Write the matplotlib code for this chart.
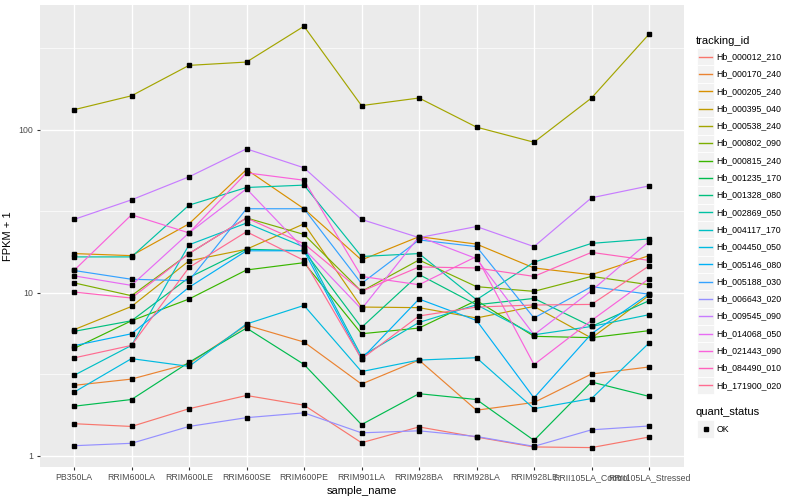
import matplotlib
matplotlib.use('Agg')
import matplotlib.pyplot as plt
from matplotlib.lines import Line2D
from matplotlib.patches import Rectangle
from matplotlib.ticker import NullFormatter

plt.rcParams['font.family'] = ['Liberation Sans', 'DejaVu Sans']

samples = ['PB350LA', 'RRIM600LA', 'RRIM600LE', 'RRIM600SE', 'RRIM600PE',
           'RRIM901LA', 'RRIM928BA', 'RRIM928LA', 'RRIM928LE',
           'RRII105LA_Control', 'RRII105LA_Stressed']

tracking_ids = ['Hb_000012_210', 'Hb_000170_240', 'Hb_000205_240', 'Hb_000395_040',
                'Hb_000538_240', 'Hb_000802_090', 'Hb_000815_240', 'Hb_001235_170',
                'Hb_001328_080', 'Hb_002869_050', 'Hb_004117_170', 'Hb_004450_050',
                'Hb_005146_080', 'Hb_005188_030', 'Hb_006643_020', 'Hb_009545_090',
                'Hb_014068_050', 'Hb_021443_090', 'Hb_084490_010', 'Hb_171900_020']

# FPKM + 1, one list per gene, in sample order
hb_000012_210 = [1.57, 1.51, 1.94, 2.34, 2.04, 1.20, 1.50, 1.30, 1.13, 1.12, 1.30]
hb_000170_240 = [2.70, 2.95, 3.67, 6.32, 4.98, 2.75, 3.86, 1.90, 2.12, 3.17, 3.50]
hb_000205_240 = [17.4, 16.9, 26.5, 57.1, 32.8, 15.9, 22.1, 19.9, 14.2, 12.9, 16.9]
hb_000395_040 = [5.93, 8.24, 15.7, 18.5, 26.5, 8.17, 8.10, 7.00, 8.24, 5.27, 9.63]
hb_000538_240 = [133, 162, 249, 261, 433, 141, 157, 104, 84, 157, 387]
hb_000802_090 = [11.5, 9.59, 17.4, 28.8, 22.8, 10.2, 15.9, 10.9, 10.2, 12.6, 11.2]
hb_000815_240 = [4.55, 6.73, 9.15, 13.8, 15.3, 5.60, 6.07, 8.97, 5.40, 5.30, 5.85]
hb_001235_170 = [2.01, 2.21, 3.74, 6.07, 3.63, 1.55, 2.40, 2.21, 1.24, 2.83, 2.31]
hb_001328_080 = [5.79, 6.73, 12.4, 18.5, 18.1, 6.12, 12.95, 8.44, 9.23, 6.21, 8.93]
hb_002869_050 = [16.6, 16.6, 34.5, 44.3, 45.8, 16.7, 17.4, 9.06, 15.4, 20.1, 21.4]
hb_004117_170 = [3.11, 4.75, 19.7, 26.8, 19.1, 4.07, 6.57, 8.44, 5.52, 6.21, 7.33]
hb_004450_050 = [2.45, 3.94, 3.53, 6.43, 8.36, 3.28, 3.86, 3.99, 1.94, 2.24, 4.91]
hb_005146_080 = [4.73, 5.60, 10.8, 18.1, 18.1, 3.92, 9.15, 6.76, 2.26, 5.60, 9.86]
hb_005188_030 = [13.7, 12.1, 11.85, 32.8, 32.8, 11.4, 21.1, 19.2, 7.00, 10.9, 9.80]
hb_006643_020 = [1.15, 1.19, 1.51, 1.71, 1.83, 1.38, 1.42, 1.31, 1.14, 1.44, 1.52]
hb_009545_090 = [28.2, 37.2, 51.5, 76.5, 58.5, 28.2, 21.8, 25.5, 19.2, 38.3, 45.3]
hb_014068_050 = [12.7, 11.1, 23.3, 43.5, 18.6, 7.94, 22.1, 16.2, 5.52, 10.3, 20.6]
hb_021443_090 = [13.7, 30.1, 23.3, 54.5, 49.1, 12.6, 11.2, 16.7, 3.62, 6.76, 12.2]
hb_084490_010 = [10.1, 9.28, 17.4, 28.8, 20.0, 10.2, 14.4, 14.2, 12.6, 17.7, 15.8]
hb_171900_020 = [3.98, 4.75, 14.3, 23.7, 15.8, 3.92, 7.20, 8.17, 8.41, 8.48, 14.6]

series = [hb_000012_210, hb_000170_240, hb_000205_240, hb_000395_040, hb_000538_240,
          hb_000802_090, hb_000815_240, hb_001235_170, hb_001328_080, hb_002869_050,
          hb_004117_170, hb_004450_050, hb_005146_080, hb_005188_030, hb_006643_020,
          hb_009545_090, hb_014068_050, hb_021443_090, hb_084490_010, hb_171900_020]

# ggplot2 default hue palette, 20 levels
colors = ['#F8766D', '#EA8331', '#D89000', '#C09B00', '#A3A500', '#7CAE00', '#39B600',
          '#00BB4E', '#00BF7D', '#00C1A3', '#00BFC4', '#00BAE0', '#00B0F6', '#35A2FF',
          '#9590FF', '#C77CFF', '#E76BF3', '#FA62DB', '#FF62BC', '#FF6C91']

W, H = 800, 500
fig = plt.figure(figsize=(8, 5), dpi=100)
ax = fig.add_axes([39.5 / W, 1 - 467 / H, 644 / W, 462 / H])
ax.set_facecolor('#EBEBEB')
for s in ax.spines.values():
    s.set_visible(False)

x = list(range(len(samples)))
for vals, col in zip(series, colors):
    ax.plot(x, vals, color=col, lw=0.85, zorder=2)
for vals in series:
    ax.plot(x, vals, ls='none', marker='s', ms=2.2, color='black', zorder=3)

ax.set_yscale('log')
ax.set_ylim(10 ** -0.07, 10 ** 2.767)
ax.set_xlim(-0.6, len(samples) - 0.4)
ax.set_yticks([1, 10, 100])
ax.set_yticklabels(['1', '10', '100'])
ax.set_yticks([10 ** 0.5, 10 ** 1.5, 10 ** 2.5], minor=True)
ax.yaxis.set_minor_formatter(NullFormatter())
ax.set_xticks(x)
ax.set_xticklabels(samples)
ax.xaxis.set_minor_locator(plt.NullLocator())

ax.grid(which='major', color='white', lw=1.0, zorder=0)
ax.grid(which='minor', axis='y', color='white', lw=0.5, zorder=0)
ax.set_axisbelow(True)
ax.tick_params(which='major', length=2.5, width=0.8, color='#333333',
               labelsize=6.3, labelcolor='#4D4D4D', pad=2)
ax.tick_params(which='minor', length=0)

ax.set_xlabel('sample_name', fontsize=8, labelpad=3)
ax.set_ylabel('FPKM + 1', fontsize=8, labelpad=4)

# legend drawn by hand, ggplot style
fig.text(696 / W, 1 - 40.5 / H, 'tracking_id', fontsize=8, va='center', ha='left')
for i, (name, col) in enumerate(zip(tracking_ids, colors)):
    yc = 56.7 + 17.3 * i
    fig.add_artist(Rectangle((697 / W, 1 - (yc + 8.6) / H), 17.3 / W, 17.3 / H,
                             transform=fig.transFigure, facecolor='#F2F2F2',
                             edgecolor='white', lw=0.6, zorder=1))
    fig.add_artist(Line2D([699 / W, 712 / W], [1 - yc / H, 1 - yc / H],
                          transform=fig.transFigure, color=col, lw=1.0, zorder=2))
    fig.text(716.5 / W, 1 - yc / H, name, fontsize=6.3, va='center', ha='left')

fig.text(696 / W, 1 - 412 / H, 'quant_status', fontsize=8, va='center', ha='left')
fig.add_artist(Rectangle((697 / W, 1 - (429 + 8.6) / H), 17.3 / W, 17.3 / H,
                         transform=fig.transFigure, facecolor='#F2F2F2',
                         edgecolor='white', lw=0.6, zorder=1))
fig.add_artist(Line2D([705.6 / W], [1 - 429 / H], transform=fig.transFigure,
                      ls='none', marker='s', ms=2.2, color='black', zorder=2))
fig.text(716.5 / W, 1 - 429 / H, 'OK', fontsize=6.3, va='center', ha='left')

fig.savefig('out.png', dpi=100)
